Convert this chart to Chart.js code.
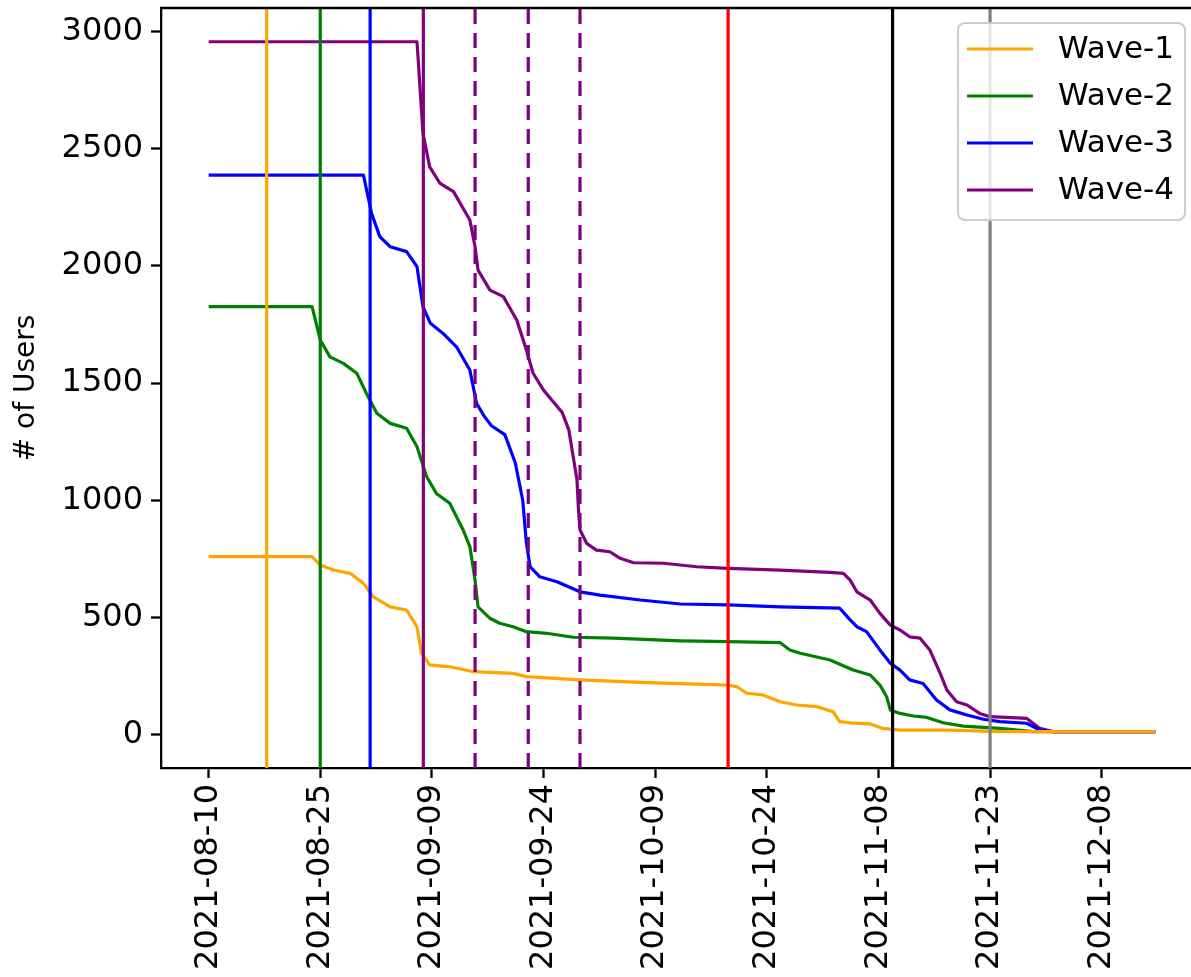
<!DOCTYPE html>
<html>
<head>
<meta charset="utf-8">
<script src="https://cdn.jsdelivr.net/npm/chart.js@4.4.1/dist/chart.umd.min.js"></script>
<style>
  html, body { margin: 0; padding: 0; background: #fff; overflow: hidden; }
  #wrap { position: relative; width: 1191px; height: 977px; }
</style>
</head>
<body>
<div id="wrap"><canvas id="c"></canvas></div>
<script>
// Remaining users per wave; x values are days after startDate
const startDate = '2021-08-10';
const dateTicks = ['2021-08-10', '2021-08-25', '2021-09-09', '2021-09-24', '2021-10-09',
                   '2021-10-24', '2021-11-08', '2021-11-23', '2021-12-08'];
const userTicks = [0, 500, 1000, 1500, 2000, 2500, 3000];
const seriesNames = ['Wave-1', 'Wave-2', 'Wave-3', 'Wave-4'];

const wave1Days  = [0, 13.9, 15, 16.8, 19, 20.8, 22.1, 24.4, 26.6, 28, 28.6, 29.7, 32.4, 35.6, 40.9, 42.7, 49.9, 58.9,
                    69.8, 71, 72.3, 74.5, 76.8, 79, 81.7, 83.9, 84.8, 86.2, 88.9, 90.6, 92.9, 99.6, 106.3, 127.2];
const wave1Users = [759, 759, 723, 702, 688, 645, 588, 545, 531, 460, 347, 297, 289, 268, 261, 247, 233, 221,
                    211, 204, 176, 169, 140, 126, 119, 97, 55, 50, 45, 26, 19, 19, 12, 12];

const wave2Days  = [0, 13.9, 15, 16.3, 18.1, 19.9, 21.2, 22.6, 24.4, 26.6, 28, 29.3, 30.6, 32.4, 34.2, 35.1, 35.8, 36.2,
                    37.8, 39.1, 40.9, 42.7, 45.4, 49, 54.4, 63.4, 69.8, 76.8, 78.1, 79.5, 83.5, 86.6, 88.9, 90.2,
                    91.1, 91.6, 92.9, 94.7, 96.5, 98.7, 101.4, 106.3, 110.8, 127.2];
const wave2Users = [1826, 1826, 1684, 1612, 1584, 1542, 1456, 1371, 1328, 1307, 1228, 1100, 1029, 987, 873, 802, 659, 545,
                    496, 475, 460, 439, 432, 415, 411, 400, 396, 392, 361, 347, 318, 275, 254, 211,
                    161, 105, 90, 79, 73, 50, 36, 26, 12, 12];

const wave3Days  = [0, 20.8, 21.9, 23, 24.4, 26.6, 28, 28.8, 29.8, 31.5, 33.3, 35.1, 36, 37, 38, 39.8, 41.2, 42.2, 42.7,
                    43.2, 44.5, 46.8, 49.9, 52.6, 58, 63.4, 69.8, 76.8, 84.8, 86.2, 87.1, 88.4, 90.2, 91.6, 92.9,
                    94.2, 96, 97.8, 99.6, 101.9, 104.1, 106.3, 109.9, 111.7, 113.5, 127.2];
const wave3Users = [2388, 2388, 2224, 2125, 2082, 2061, 1997, 1826, 1755, 1712, 1655, 1556, 1414, 1360, 1318, 1280, 1160, 1001, 816,
                    716, 673, 652, 609, 595, 574, 557, 553, 545, 539, 489, 460, 439, 361, 304, 275,
                    233, 218, 147, 105, 83, 65, 55, 48, 19, 12, 12];

const wave4Days  = [0, 28, 28.8, 29.7, 31.1, 32.9, 35.1, 35.8, 36.2, 37.8, 39.6, 41.4, 42.7, 43.6, 45, 46.3, 47.5, 48.4,
                    49.5, 49.7, 49.9, 50.8, 52.1, 53.9, 55.3, 57.1, 61.1, 65.6, 69.8, 76.8, 83.5, 85.3, 86.2, 87.1,
                    88.9, 90.2, 91.6, 92.9, 94.2, 95.6, 96.9, 98.3, 99.2, 100.5, 101.9, 103.6, 105, 107.2, 109.9,
                    111.7, 113.5, 127.2];
const wave4Users = [2957, 2957, 2567, 2423, 2352, 2317, 2196, 2082, 1982, 1897, 1869, 1769, 1641, 1542, 1470, 1420, 1375, 1300,
                    1086, 958, 873, 816, 787, 780, 752, 733, 731, 716, 709, 702, 692, 688, 659, 609,
                    574, 517, 467, 446, 417, 411, 361, 261, 190, 140, 126, 90, 76, 73, 69,
                    26, 12, 12];

// Event markers (days after startDate)
const markerDays   = [7.8, 15, 21.7, 28.85, 35.8, 42.95, 49.9, 69.8, 91.9, 105];
const markerColors = ['orange', 'green', 'blue', 'purple', 'purple', 'purple', 'purple', 'red', 'black', 'gray'];
const markerDashed = [false, false, false, false, true, true, true, false, false, false];

const seriesColors = ['orange', 'green', 'blue', 'purple'];
const FONT = 'DejaVu Sans';
const TICK_SIZE = 32;
const DAY = 86400000;
const t0 = Date.parse(startDate + 'T00:00:00Z');
const dayOf = s => (Date.parse(s + 'T00:00:00Z') - t0) / DAY;
const dateOf = d => new Date(t0 + Math.round(d) * DAY).toISOString().slice(0, 10);

const seriesDays = [wave1Days, wave2Days, wave3Days, wave4Days];
const seriesUsers = [wave1Users, wave2Users, wave3Users, wave4Users];

const datasets = seriesNames.map((name, k) => ({
  label: name,
  data: seriesDays[k].map((d, i) => ({ x: d, y: seriesUsers[k][i] })),
  borderColor: seriesColors[k],
  backgroundColor: seriesColors[k],
  borderWidth: 3.2,
  pointRadius: 0,
  tension: 0,
  borderJoinStyle: 'round',
  fill: false
}));

// vertical event lines, drawn over the curves
const markerLines = {
  id: 'markerLines',
  afterDatasetsDraw(chart) {
    const { ctx, chartArea: ca, scales: { x } } = chart;
    ctx.save();
    ctx.beginPath();
    ctx.rect(ca.left, ca.top, ca.right - ca.left, ca.bottom - ca.top);
    ctx.clip();
    markerDays.forEach((d, i) => {
      const px = x.getPixelForValue(d);
      ctx.beginPath();
      ctx.strokeStyle = markerColors[i];
      ctx.lineWidth = 3.2;
      ctx.setLineDash(markerDashed[i] ? [15, 9] : []);
      ctx.moveTo(px, ca.bottom);
      ctx.lineTo(px, ca.top);
      ctx.stroke();
    });
    ctx.restore();
    // top spine
    ctx.save();
    ctx.strokeStyle = '#000';
    ctx.lineWidth = 2.3;
    ctx.beginPath();
    ctx.moveTo(ca.left - 1, ca.top);
    ctx.lineTo(ca.right + 2, ca.top);
    ctx.stroke();
    ctx.restore();
  }
};

// boxed legend in the upper right corner
const waveLegend = {
  id: 'waveLegend',
  afterDraw(chart) {
    const { ctx, chartArea: ca } = chart;
    const x0 = ca.right - 233, y0 = ca.top + 15, w = 227, h = 197;
    ctx.save();
    ctx.beginPath();
    ctx.roundRect(x0, y0, w, h, 7);
    ctx.fillStyle = 'rgba(255,255,255,0.8)';
    ctx.fill();
    ctx.strokeStyle = '#cccccc';
    ctx.lineWidth = 2;
    ctx.stroke();
    ctx.font = `${TICK_SIZE - 1}px "${FONT}"`;
    ctx.textBaseline = 'middle';
    ctx.textAlign = 'left';
    chart.data.datasets.forEach((ds, i) => {
      const y = y0 + 26 + i * 47;
      ctx.beginPath();
      ctx.strokeStyle = ds.borderColor;
      ctx.lineWidth = 3.2;
      ctx.moveTo(x0 + 9, y);
      ctx.lineTo(x0 + 75, y);
      ctx.stroke();
      ctx.fillStyle = '#000';
      ctx.fillText(ds.label, x0 + 100, y + 1);
    });
    ctx.restore();
  }
};

new Chart(document.getElementById('c'), {
  type: 'line',
  data: { datasets },
  options: {
    responsive: true,
    maintainAspectRatio: false,
    animation: false,
    parsing: true,
    layout: { padding: { top: 8, left: 0, right: 0, bottom: 0 } },
    plugins: { legend: { display: false }, tooltip: { enabled: false } },
    scales: {
      x: {
        type: 'linear',
        min: -6.4,
        max: 132.0,
        afterBuildTicks(scale) { scale.ticks = dateTicks.map(s => ({ value: dayOf(s) })); },
        afterFit(scale) { scale.height = 209; scale.paddingLeft = 0; scale.paddingRight = 0; },
        ticks: {
          autoSkip: false, minRotation: 90, maxRotation: 90, padding: 6,
          color: '#000', font: { family: FONT, size: TICK_SIZE },
          callback: v => dateOf(v)
        },
        grid: { drawOnChartArea: false, drawTicks: true, tickLength: 10, tickColor: '#000', tickWidth: 2.3 },
        border: { display: true, color: '#000', width: 2.3 }
      },
      y: {
        type: 'linear',
        min: -143,
        max: 3101,
        afterBuildTicks(scale) { scale.ticks = userTicks.map(v => ({ value: v })); },
        afterFit(scale) { scale.width = 161; scale.paddingTop = 0; scale.paddingBottom = 0; },
        ticks: { padding: 8, color: '#000', font: { family: FONT, size: TICK_SIZE }, callback: v => String(v) },
        grid: { drawOnChartArea: false, drawTicks: true, tickLength: 10, tickColor: '#000', tickWidth: 2.3 },
        border: { display: true, color: '#000', width: 2.3 },
        title: { display: true, text: '# of Users', color: '#000', font: { family: FONT, size: 28 }, padding: { top: 10, bottom: 0 } }
      }
    }
  },
  plugins: [markerLines, waveLegend]
});
</script>
</body>
</html>
